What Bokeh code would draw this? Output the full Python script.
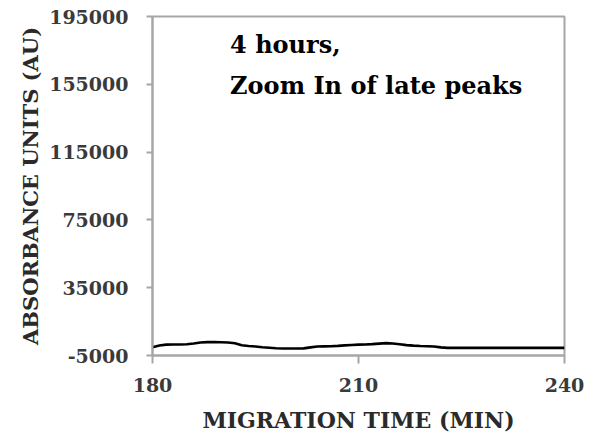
from bokeh.plotting import figure
from bokeh.models import FixedTicker, NumeralTickFormatter, Range1d
from bokeh.core.properties import value
from bokeh.embed import file_html
from bokeh.resources import INLINE

# Electropherogram trace, 180-240 min window
time_min = [180, 181, 182, 183, 184, 185, 186, 187, 188, 189, 190, 191, 192, 193,
            194, 195, 196, 197, 198, 199, 200, 201, 202, 203, 204, 205, 206, 207,
            208, 209, 210, 211, 212, 213, 214, 215, 216, 217, 218, 219, 220, 221,
            222, 223, 224, 226, 228, 230, 232, 234, 236, 238, 240]
absorbance = [-100, 900, 1400, 1500, 1500, 1600, 2100, 2700, 2900, 2900, 2800, 2700,
              2200, 1000, 600, 300, -100, -400, -700, -850, -870, -850, -800, -200,
              300, 400, 500, 700, 1000, 1200, 1400, 1500, 1700, 2000, 2300, 2100,
              1600, 1100, 800, 600, 500, 300, -200, -500, -500, -500, -500, -500,
              -500, -500, -500, -500, -500]

x_ticks = [180, 210, 240]
y_ticks = [-5000, 35000, 75000, 115000, 155000, 195000]

SERIF = "DejaVu Serif"
AXIS_GRAY = "#a6a6a6"

p = figure(width=589, height=437, output_backend="svg", toolbar_location=None,
           x_range=Range1d(180, 240), y_range=Range1d(-5000, 195000),
           min_border_left=152, min_border_right=25, min_border_top=16,
           min_border_bottom=82)

p.line(time_min, absorbance, line_color="black", line_width=2.6)

# annotation block in the upper part of the panel
p.text(x=[191.3, 191.3], y=[178500, 154500],
       text=["4 hours,", "Zoom In of late peaks"], text_font=value(SERIF),
       text_font_style="bold", text_font_size="24px", text_color="black",
       text_baseline="alphabetic")

p.grid.visible = False
p.outline_line_color = AXIS_GRAY
p.outline_line_width = 2
p.background_fill_color = "white"
p.border_fill_color = "white"

for ax in (p.xaxis[0], p.yaxis[0]):
    ax.axis_line_color = AXIS_GRAY
    ax.axis_line_width = 2
    ax.major_tick_line_color = AXIS_GRAY
    ax.major_tick_line_width = 2
    ax.major_tick_in = 0
    ax.minor_tick_line_color = None
    ax.major_label_text_font = SERIF
    ax.major_label_text_font_style = "bold"
    ax.major_label_text_font_size = "19px"
    ax.major_label_text_color = "#3a3a3a"
    ax.axis_label_text_font = SERIF
    ax.axis_label_text_font_style = "bold"
    ax.axis_label_text_color = "#2a2a2a"

p.xaxis.ticker = FixedTicker(ticks=x_ticks)
p.xaxis.major_tick_out = 8
p.xaxis.major_label_standoff = 14
p.xaxis.axis_label = "MIGRATION TIME (MIN)"
p.xaxis.axis_label_text_font_size = "22px"
p.xaxis.axis_label_standoff = 12

p.yaxis.ticker = FixedTicker(ticks=y_ticks)
p.yaxis.formatter = NumeralTickFormatter(format="0")
p.yaxis.major_tick_out = 6
p.yaxis.major_label_standoff = 18
p.yaxis.axis_label = "ABSORBANCE UNITS (AU)"
p.yaxis.axis_label_text_font_size = "21px"
p.yaxis.axis_label_standoff = 3

open("out.html", "w").write(file_html(p, INLINE))
